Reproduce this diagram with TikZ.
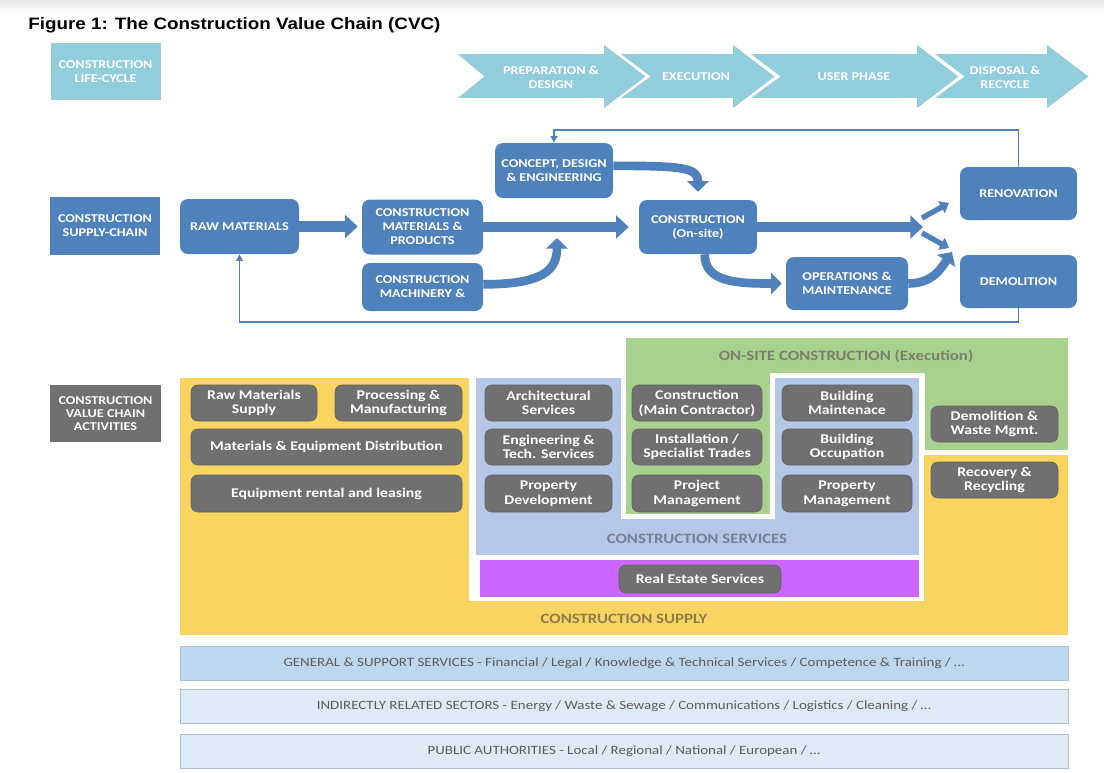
\documentclass[tikz,border=0pt]{standalone}
\usepackage{fontspec}
\setmainfont{Carlito}[FakeStretch=1.18]
\newfontfamily\titlefont{Liberation Sans}[FakeStretch=1.14]
\usetikzlibrary{arrows.meta}

\definecolor{cvblue}{RGB}{79,129,189}
\definecolor{cvlight}{RGB}{146,205,220}
\definecolor{cvgray}{RGB}{112,112,112}
\definecolor{cvyellow}{RGB}{250,212,96}
\definecolor{cvservice}{RGB}{180,199,231}
\definecolor{cvgreen}{RGB}{169,209,142}
\definecolor{cvpurple}{RGB}{204,102,255}
\definecolor{barA}{RGB}{189,215,238}
\definecolor{barB}{RGB}{222,235,247}
\definecolor{barline}{RGB}{172,192,216}
\definecolor{bartext}{RGB}{92,92,92}
\definecolor{onsitetext}{RGB}{118,128,108}
\definecolor{servtext}{RGB}{118,128,148}
\definecolor{supplytext}{RGB}{140,124,78}

\tikzset{
  sz/.style 2 args={minimum width=#1*0.75pt, minimum height=#2*0.75pt},
  capsfont/.style={font=\bfseries\fontsize{9}{10.5}\selectfont},
  labelbox/.style={inner sep=0pt, align=center, text=white, capsfont},
  sidelabel/.style={labelbox, fill=cvblue},
  stagebox/.style={labelbox, fill=cvblue, rounded corners=6pt},
  phase/.style={labelbox},
  activity/.style={inner sep=0pt, align=center, text=white, fill=cvgray,
    draw=black!62, line width=0.4pt, rounded corners=5pt,
    font=\bfseries\fontsize{10}{11}\selectfont},
  regionlabel/.style={inner sep=0pt, font=\bfseries\fontsize{10.7}{12}\selectfont},
  bar/.style={inner sep=0pt, draw=barline, line width=0.5pt, text=bartext,
    font=\fontsize{9.5}{11}\selectfont},
  chevron/.style={fill=cvlight, draw=white, line width=1.2pt},
  bigarrow/.style={draw=cvblue, line width=8pt, -{Triangle[length=9.5pt,width=17pt]}},
  curvearrow/.style={draw=cvblue, line width=6.5pt, -{Triangle[length=8pt,width=16pt]}},
  smallarrow/.style={draw=cvblue, line width=4pt, -{Triangle[length=6.5pt,width=10pt]}},
  thinarrow/.style={draw=cvblue, line width=1.3pt, -{Triangle[length=5pt,width=5pt]}}
}

\begin{document}
\begin{tikzpicture}[x=0.75pt, y=-0.75pt]
\useasboundingbox (0,0) rectangle (1104,772);
\shade[top color=black!9, bottom color=white] (0,0) rectangle (1104,13);

% title
\node[anchor=base west, inner sep=0pt, font=\titlefont\bfseries\fontsize{12.4}{14}\selectfont]
  (title) at (28,29.5) {Figure 1: The Construction Value Chain (CVC)};

% ---------- life-cycle row ----------
\node[sidelabel, fill=cvlight, sz={110}{57}, font=\bfseries\fontsize{9}{11}\selectfont]
  (lifecycle) at (105.5,71.5) {CONSTRUCTION\\LIFE-CYCLE};

\filldraw[chevron] (455,53) -- (603,53) -- (603,43) -- (647,76.5) -- (603,110) -- (603,99) -- (455,99) -- (483,76.5) -- cycle;
\filldraw[chevron] (618,53) -- (732,53) -- (732,43) -- (776,76.5) -- (732,110) -- (732,99) -- (618,99) -- (649,76.5) -- cycle;
\filldraw[chevron] (748,53) -- (916,53) -- (916,43) -- (960,76.5) -- (916,110) -- (916,99) -- (748,99) -- (779,76.5) -- cycle;
\filldraw[chevron] (932,53) -- (1046,53) -- (1046,43) -- (1090,76.5) -- (1046,110) -- (1046,99) -- (932,99) -- (963,76.5) -- cycle;

\node[phase] (prep) at (551,77) {PREPARATION \&\\DESIGN};
\node[phase] (exec) at (696,77) {EXECUTION};
\node[phase] (user) at (854,77) {USER PHASE};
\node[phase] (disp) at (1005,77) {DISPOSAL \&\\RECYCLE};

% ---------- supply-chain row ----------
\node[sidelabel, sz={110}{58}] (sclabel) at (105,226) {CONSTRUCTION\\SUPPLY-CHAIN};
\node[stagebox, sz={119}{55}] (raw) at (239.5,226.5) {RAW MATERIALS};
\node[stagebox, sz={121}{55}] (mat) at (422.5,227) {CONSTRUCTION\\MATERIALS \&\\PRODUCTS};
\node[stagebox, sz={121}{48}] (mach) at (422.5,287) {CONSTRUCTION\\MACHINERY \&};
\node[stagebox, sz={118}{55}] (concept) at (554,170.5) {CONCEPT, DESIGN\\\& ENGINEERING};
\node[stagebox, sz={118}{54}] (site) at (698,227) {CONSTRUCTION\\(On-site)};
\node[stagebox, sz={122}{53}] (ops) at (847,283.5) {OPERATIONS \&\\MAINTENANCE};
\node[stagebox, sz={117}{53}] (reno) at (1018.5,193.5) {RENOVATION};
\node[stagebox, sz={117}{53}] (demo) at (1018.5,281.5) {DEMOLITION};

\coordinate (split) at (923,229);
\coordinate (renoA) at (922,218);
\coordinate (renoB) at (949,203);
\coordinate (demoA) at (922,233);
\coordinate (demoB) at (949,248);

\draw[bigarrow, shorten >=3pt] (raw.east) -- (raw.east -| mat.west);
\draw[bigarrow, shorten >=7.5pt] (mat.east) -- (mat.east -| site.west);
\draw[bigarrow] (site.east) -- (site.east -| split);
\draw[curvearrow] ([yshift=3.5pt]concept.east) .. controls +(70,0) and +(0,-24) .. ([yshift=6pt]site.north);
\draw[curvearrow] ([yshift=2pt]mach.east) .. controls +(60,0) and +(0,32) .. (557,238);
\draw[curvearrow] ([xshift=5pt]site.south) .. controls +(0,28) and +(-45,0) .. ([xshift=-3pt]ops.west);
\draw[curvearrow] (ops.east) .. controls +(25,0) and +(-10,15) .. (952,252);
\draw[smallarrow] (renoA) -- (renoB);
\draw[smallarrow] (demoA) -- (demoB);

\draw[thinarrow] (reno.north) -- ++(0,-37) -| (concept.north);
\draw[thinarrow] (demo.south) -- ++(0,14) -| (raw.south);

% ---------- value chain activities ----------
\node[sidelabel, fill=cvgray, sz={111}{57}, font=\bfseries\fontsize{9}{10}\selectfont]
  (actlabel) at (105.5,413.5) {CONSTRUCTION\\VALUE CHAIN\\ACTIVITIES};

\fill[cvyellow] (180,378) rectangle (1068,635);
\fill[white] (469,373) rectangle (924,601);
\fill[cvservice] (476,378) rectangle (919,555);
\fill[cvpurple] (480,560) rectangle (919,597);
\filldraw[fill=cvgreen, draw=white, line width=3.75pt]
  (623,335.5) -- (1070.5,335.5) -- (1070.5,452) -- (922,452) -- (922,375.5)
  -- (772,375.5) -- (772,516) -- (623,516) -- cycle;

\node[regionlabel, text=onsitetext] (onsite) at (846,356) {ON-SITE CONSTRUCTION (Execution)};
\node[regionlabel, text=servtext] (services) at (697,539) {CONSTRUCTION SERVICES};
\node[regionlabel, text=supplytext] (supply) at (624,619) {CONSTRUCTION SUPPLY};

\node[activity, sz={126}{36}] (rms) at (254,403) {Raw Materials\\Supply};
\node[activity, sz={127}{36}] (pm) at (398.5,403) {Processing \&\\Manufacturing};
\node[activity, sz={271}{36}] (med) at (326.5,447) {Materials \& Equipment Distribution};
\node[activity, sz={271}{37}] (erl) at (326.5,493.5) {Equipment rental and leasing};

\node[activity, sz={127}{36}] (arch) at (548.5,403) {Architectural\\Services};
\node[activity, sz={127}{36}] (eng) at (548.5,447) {Engineering \&\\Tech. Services};
\node[activity, sz={127}{37}] (pdev) at (548.5,493.5) {Property\\Development};

\node[activity, sz={130}{36}] (mainc) at (697,403) {Construction\\(Main Contractor)};
\node[activity, sz={130}{36}] (inst) at (697,447) {Installation /\\Specialist Trades};
\node[activity, sz={130}{37}] (projm) at (697,493.5) {Project\\Management};

\node[activity, sz={130}{36}] (bmain) at (847,403) {Building\\Maintenace};
\node[activity, sz={130}{36}] (bocc) at (847,447) {Building\\Occupation};
\node[activity, sz={130}{37}] (propm) at (847,493.5) {Property\\Management};

\node[activity, sz={127}{36}] (demw) at (994.5,424) {Demolition \&\\Waste Mgmt.};
\node[activity, sz={127}{36}] (recov) at (994.5,480) {Recovery \&\\Recycling};

\node[activity, sz={162}{28}] (reals) at (700,579) {Real Estate Services};

% ---------- surrounding sectors ----------
\node[bar, fill=barA, sz={888}{34}] (general) at (624,663)
  {GENERAL \& SUPPORT SERVICES - Financial / Legal / Knowledge \& Technical Services / Competence \& Training / \dots};
\node[bar, fill=barB, sz={888}{34}] (indirect) at (624,706)
  {INDIRECTLY RELATED SECTORS - Energy / Waste \& Sewage / Communications / Logistics / Cleaning / \dots};
\node[bar, fill=barB, sz={888}{34}] (public) at (624,751)
  {PUBLIC AUTHORITIES - Local / Regional / National / European / \dots};
\end{tikzpicture}
\end{document}
